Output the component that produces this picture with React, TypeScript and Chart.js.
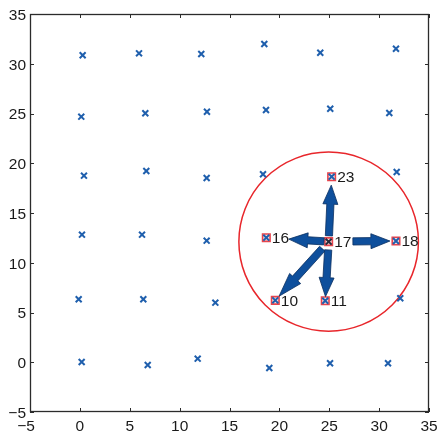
import React, { useEffect, useRef } from "react";
import { Chart, registerables } from "chart.js";

Chart.register(...registerables);

// Node coordinates, numbered 1..36 (row by row from bottom)
const nodeX = [
  0.18, 6.8, 11.81, 18.99, 25.08, 30.89,
  -0.12, 6.36, 13.58, 19.59, 24.6, 32.12,
  0.21, 6.23, 12.71, 18.69, 24.94, 31.69,
  0.41, 6.66, 12.71, 18.36, 25.24, 31.76,
  0.14, 6.56, 12.74, 18.66, 25.1, 31.02,
  0.28, 5.93, 12.17, 18.49, 24.1, 31.69,
];
const nodeY = [
  0.03, -0.28, 0.36, -0.58, -0.1, -0.1,
  6.33, 6.33, 5.99, 6.22, 6.18, 6.43,
  12.82, 12.82, 12.22, 12.52, 12.12, 12.19,
  18.75, 19.22, 18.52, 18.89, 18.65, 19.12,
  24.68, 25.02, 25.18, 25.35, 25.48, 25.05,
  30.85, 31.05, 30.98, 31.98, 31.11, 31.51,
];

const centerNode = 17;
const highlighted = [23, 16, 17, 18, 10, 11];
const circleRadius = 9;

const arrowFrom = [17, 17, 17, 17, 17];
const arrowTo = [23, 16, 18, 11, 10];
const arrowStart = [0.09, 0.075, 0.36, 0.14, 0.12];
const arrowEnd = [0.87, 0.64, 0.91, 0.93, 0.93];

const tickValues = [-5, 0, 5, 10, 15, 20, 25, 30, 35];
const tickLabels = ["\u22125", "0", "5", "10", "15", "20", "25", "30", "35"];
const axisMin = -5;
const axisMax = 35;

const FONT = "'Liberation Sans', Arial, Helvetica, sans-serif";

export default function App() {
  const ref = useRef<HTMLCanvasElement | null>(null);

  useEffect(() => {
    if (!ref.current) return;

    const points = nodeX.map((x, i) => ({ x, y: nodeY[i] }));
    const hlPoints = highlighted.map((n) => ({ x: nodeX[n - 1], y: nodeY[n - 1] }));

    const overlay = {
      id: "overlay",
      beforeDatasetsDraw(chart: any) {
        const { ctx, scales } = chart;
        const xs = scales.x;
        const ys = scales.y;
        ctx.save();
        const cx = xs.getPixelForValue(nodeX[centerNode - 1]);
        const cy = ys.getPixelForValue(nodeY[centerNode - 1]);
        const rx = Math.abs(xs.getPixelForValue(nodeX[centerNode - 1] + circleRadius) - cx);
        const ry = Math.abs(ys.getPixelForValue(nodeY[centerNode - 1] + circleRadius) - cy);
        ctx.strokeStyle = "#e8262b";
        ctx.lineWidth = 1.5;
        ctx.beginPath();
        ctx.ellipse(cx, cy, rx, ry, 0, 0, Math.PI * 2);
        ctx.stroke();
        ctx.restore();
      },
      afterDatasetsDraw(chart: any) {
        const { ctx, chartArea: a, scales } = chart;
        const xs = scales.x;
        const ys = scales.y;
        ctx.save();
        // arrows
        for (let i = 0; i < arrowFrom.length; i++) {
          const fx = xs.getPixelForValue(nodeX[arrowFrom[i] - 1]);
          const fy = ys.getPixelForValue(nodeY[arrowFrom[i] - 1]);
          const tx = xs.getPixelForValue(nodeX[arrowTo[i] - 1]);
          const ty = ys.getPixelForValue(nodeY[arrowTo[i] - 1]);
          const sx = fx + (tx - fx) * arrowStart[i];
          const sy = fy + (ty - fy) * arrowStart[i];
          const ex = fx + (tx - fx) * arrowEnd[i];
          const ey = fy + (ty - fy) * arrowEnd[i];
          const len = Math.hypot(ex - sx, ey - sy);
          const ux = (ex - sx) / len;
          const uy = (ey - sy) / len;
          const nx = -uy;
          const ny = ux;
          const w = 3.6;
          const h = 7.5;
          const L = Math.min(len > 55 ? 24 : 19, len * 0.6);
          const bx = ex - ux * L;
          const by = ey - uy * L;
          ctx.beginPath();
          ctx.moveTo(sx + nx * w, sy + ny * w);
          ctx.lineTo(bx + nx * w, by + ny * w);
          ctx.lineTo(bx + nx * h, by + ny * h);
          ctx.lineTo(ex, ey);
          ctx.lineTo(bx - nx * h, by - ny * h);
          ctx.lineTo(bx - nx * w, by - ny * w);
          ctx.lineTo(sx - nx * w, sy - ny * w);
          ctx.closePath();
          ctx.fillStyle = "#0e4f9c";
          ctx.fill();
          ctx.strokeStyle = "#0a2f60";
          ctx.lineWidth = 0.8;
          ctx.stroke();
        }
        // node labels
        ctx.fillStyle = "#1a1a1a";
        ctx.font = `15.5px ${FONT}`;
        ctx.textAlign = "left";
        ctx.textBaseline = "middle";
        for (const n of highlighted) {
          const px = xs.getPixelForValue(nodeX[n - 1]);
          const py = ys.getPixelForValue(nodeY[n - 1]);
          ctx.fillText(String(n), px + 5.5, py + 1);
        }
        // box
        ctx.strokeStyle = "#2b2b2b";
        ctx.lineWidth = 1.3;
        ctx.strokeRect(a.left + 0.5, a.top + 0.5, a.right - a.left - 1, a.bottom - a.top - 1);
        // inward ticks
        const tl = 4;
        ctx.lineWidth = 1;
        ctx.beginPath();
        for (const v of tickValues) {
          const px = Math.round(xs.getPixelForValue(v)) + 0.5;
          ctx.moveTo(px, a.bottom);
          ctx.lineTo(px, a.bottom - tl);
          ctx.moveTo(px, a.top);
          ctx.lineTo(px, a.top + tl);
          const py = Math.round(ys.getPixelForValue(v)) + 0.5;
          ctx.moveTo(a.left, py);
          ctx.lineTo(a.left + tl, py);
          ctx.moveTo(a.right, py);
          ctx.lineTo(a.right - tl, py);
        }
        ctx.stroke();
        // tick labels
        ctx.fillStyle = "#1a1a1a";
        ctx.font = `15.5px ${FONT}`;
        ctx.textBaseline = "middle";
        tickValues.forEach((v, i) => {
          ctx.textAlign = "right";
          ctx.fillText(tickLabels[i], a.left - 4, ys.getPixelForValue(v) + 1.5);
          ctx.textAlign = "center";
          ctx.fillText(tickLabels[i], xs.getPixelForValue(v) - (v < 0 ? 4 : 0), a.bottom + 15);
        });
        ctx.restore();
      },
    };

    const chart = new Chart(ref.current, {
      type: "scatter",
      data: {
        datasets: [
          {
            data: points,
            pointStyle: "crossRot",
            radius: 4.2,
            borderWidth: 2,
            borderColor: points.map((_, i) => (i + 1 === centerNode ? "#2a2a3a" : "#1f5fad")),
            backgroundColor: "#1f5fad",
            order: 1,
          },
          {
            data: hlPoints,
            pointStyle: "rect",
            radius: 5.3,
            borderWidth: 1.6,
            borderColor: "#e8444c",
            backgroundColor: "#fbe3e3",
            order: 2,
          },
        ],
      },
      options: {
        responsive: false,
        animation: false,
        devicePixelRatio: 1,
        layout: { padding: { top: 14, right: 11, left: 0, bottom: 0 } },
        plugins: { legend: { display: false }, tooltip: { enabled: false } },
        scales: {
          x: {
            type: "linear",
            min: axisMin,
            max: axisMax,
            afterFit: (s: any) => {
              s.height = 21;
            },
            grid: { display: false },
            border: { display: false },
            ticks: { display: false, stepSize: 5 },
          },
          y: {
            type: "linear",
            min: axisMin,
            max: axisMax,
            afterFit: (s: any) => {
              s.width = 30;
            },
            grid: { display: false },
            border: { display: false },
            ticks: { display: false, stepSize: 5 },
          },
        },
      },
      plugins: [overlay],
    });

    return () => chart.destroy();
  }, []);

  return (
    <div style={{ position: "absolute", left: 0, top: 0, width: 440, height: 433, background: "#fff" }}>
      <canvas ref={ref} width={440} height={433} style={{ display: "block" }} />
    </div>
  );
}
